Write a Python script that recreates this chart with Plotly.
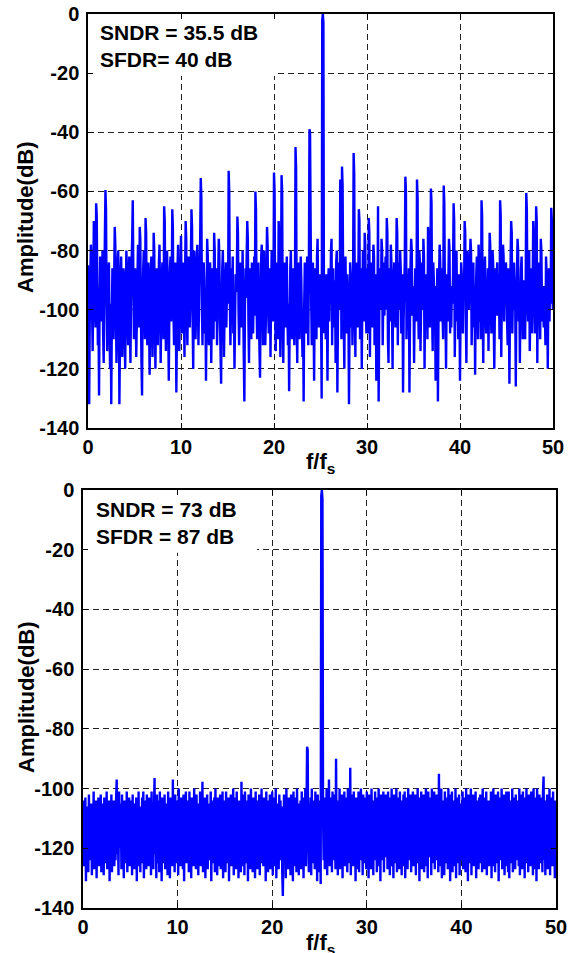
import numpy as np
import plotly.graph_objects as go
from plotly.subplots import make_subplots

# frequency bins (f/fs), 16 per unit
freq = np.arange(801) / 16

# top panel: SNDR 35.5 dB (one row per unit of f/fs)
amp_top = [
    -85, -110, -132, -104, -88, -78, -84, -100, -114, -96, -70, -74, -98, -106, -64, -68,
    -92, -112, -100, -129, -96, -82, -86, -104, -90, -80, -108, -118, -94, -76, -59.5, -66,
    -98, -114, -102, -88, -84, -106, -120, -98, -132, -104, -86, -92, -110, -90, -72, -78,
    -100, -118, -104, -84, -80, -96, -132, -110, -90, -82, -94, -116, -100, -86, -90, -108,
    -120, -96, -80, -86, -104, -112, -92, -82, -100, -118, -98, -84, -76, -63, -88, -110,
    -102, -86, -94, -116, -104, -90, -78, -84, -106, -72, -76, -100, -118, -129, -96, -86,
    -80, -96, -110, -69, -74, -98, -112, -90, -84, -102, -122, -106, -88, -82, -98, -116,
    -100, -74, -80, -104, -120, -96, -86, -92, -112, -100, -84, -78, -96, -118, -104, -90,
    -84, -98, -110, -65, -70, -96, -114, -88, -80, -90, -106, -124, -100, -86, -82, -104,
    -94, -66, -72, -100, -112, -90, -84, -98, -128, -108, -86, -78, -96, -114, -102, -88,
    -75, -92, -108, -96, -84, -100, -116, -90, -70, -76, -102, -112, -94, -82, -88, -106,
    -98, -84, -66, -72, -104, -120, -96, -80, -88, -110, -100, -86, -78, -94, -112, -98,
    -86, -76, -55.5, -62, -100, -112, -94, -84, -90, -108, -98, -124, -102, -76, -82, -106,
    -112, -96, -84, -90, -118, -102, -86, -94, -110, -74, -80, -104, -96, -86, -112, -100,
    -88, -76, -82, -104, -114, -125, -98, -86, -80, -96, -116, -100, -90, -84, -106, -94,
    -84, -98, -53, -60, -96, -112, -100, -86, -92, -82, -108, -96, -120, -104, -88, -94,
    -90, -68.5, -74, -100, -112, -96, -84, -88, -106, -94, -80, -98, -116, -131, -100, -86,
    -96, -82, -70, -76, -104, -118, -92, -86, -100, -110, -84, -90, -108, -96, -82, -102,
    -60, -66, -98, -110, -90, -84, -100, -114, -123, -96, -82, -78, -94, -112, -88, -80,
    -98, -112, -104, -88, -72, -78, -100, -108, -86, -92, -116, -96, -80, -84, -104, -98,
    -53.6, -60, -100, -114, -92, -84, -98, -110, -70, -76, -102, -116, -90, -54.5, -60, -104,
    -118, -96, -84, -90, -106, -94, -82, -100, -112, -98, -127.6, -104, -86, -80, -96, -110,
    -96, -86, -100, -112, -94, -45, -52, -104, -118, -92, -84, -98, -110, -96, -82, -90,
    -104, -116, -100, -131, -98, -84, -90, -108, -96, -82, -94, -112, -86, -39, -40, -70,
    -98, -112, -90, -84, -100, -124, -96, -86, -94, -110, -82, -76, -98, -106, -92, -88,
    -96, -104, -130, -2, 0, -3, -108, -96, -90, -110, -88, -100, -124, -94, -86, -104,
    -88, -98, -80, -76, -112, -92, -86, -106, -100, -90, -118, -84, -80, -128, -104, -94,
    -84, -100, -56, -62, -110, -51.6, -58, -92, -104, -120, -90, -82, -98, -108, -88, -94,
    -100, -132, -104, -84, -88, -106, -96, -112, -94, -47, -54, -98, -116, -90, -84, -100,
    -106, -92, -66, -70, -110, -98, -86, -120, -96, -80, -84, -104, -74, -78, -100, -108,
    -86, -98, -108, -69, -74, -116, -94, -88, -84, -106, -92, -78, -82, -112, -98, -88,
    -124, -94, -98, -65, -131, -104, -86, -92, -100, -76, -80, -112, -96, -84, -102, -90,
    -82, -100, -69, -74, -110, -118, -96, -86, -104, -78, -84, -100, -120, -94, -88, -84,
    -98, -106, -90, -69, -74, -112, -96, -84, -100, -80, -86, -108, -96, -88, -128, -104,
    -92, -84, -55, -60, -110, -98, -88, -100, -86, -128, -104, -84, -76, -80, -102, -98,
    -92, -118, -100, -86, -94, -104, -56, -62, -98, -110, -80, -84, -114, -100, -90, -84,
    -100, -76, -82, -120, -96, -88, -104, -92, -110, -72, -78, -98, -106, -84, -59, -64,
    -102, -114, -84, -90, -106, -96, -124, -92, -100, -86, -131, -104, -88, -78, -84, -104,
    -98, -86, -102, -110, -58, -64, -94, -100, -120, -96, -88, -104, -90, -76, -80, -108,
    -94, -106, -92, -98, -88, -64, -70, -116, -100, -84, -80, -104, -92, -110, -88, -98,
    -124, -100, -84, -88, -96, -108, -90, -94, -70, -74, -102, -118, -92, -80, -86, -100,
    -94, -86, -76, -80, -112, -100, -90, -84, -106, -92, -122, -98, -88, -82, -100, -110,
    -78, -84, -104, -96, -110, -63, -68, -100, -118, -94, -86, -82, -100, -108, -90, -96,
    -86, -114, -96, -74, -78, -98, -108, -92, -80, -84, -104, -120, -100, -86, -102, -92,
    -84, -102, -94, -88, -110, -63, -68, -116, -96, -100, -78, -82, -104, -88, -96, -84,
    -90, -104, -112, -86, -98, -125, -100, -84, -70, -74, -108, -96, -100, -84, -94, -98,
    -126, -96, -88, -76, -80, -104, -92, -118, -98, -86, -82, -96, -110, -90, -94, -100,
    -110, -92, -60.5, -66, -96, -104, -98, -80, -114, -100, -90, -86, -108, -92, -70, -76,
    -96, -108, -86, -65, -70, -118, -94, -84, -100, -92, -110, -76, -80, -98, -104, -92,
    -106, -92, -100, -112, -82, -88, -96, -120, -94, -86, -104, -90, -98, -65.5, -70, -96,
    -100,
]

# bottom panel: SNDR 73 dB
amp_bot = [
    -104, -126, -108, -122, -103, -131, -110, -119, -106, -128, -102, -124, -112, -120, -105, -129,
    -107, -123, -101, -127, -110, -118, -104, -130, -109, -121, -103, -126, -108, -124, -102, -128,
    -105, -120, -111, -129, -103, -125, -107, -122, -101, -127, -109, -119, -104, -131, -106, -123,
    -102, -128, -108, -121, -104, -126, -110, -124, -103, -97, -122, -106, -129, -101, -120, -108,
    -105, -127, -102, -123, -109, -130, -104, -119, -107, -125, -101, -128, -111, -122, -103, -126,
    -108, -121, -104, -129, -102, -124, -110, -127, -105, -120, -103, -131, -107, -123, -101, -126,
    -106, -128, -109, -122, -103, -125, -101, -130, -108, -119, -104, -127, -102, -123, -110, -126,
    -103, -120, -107, -129, -101, -124, -105, -127, -108, -96.5, -122, -104, -130, -102, -125, -109,
    -104, -128, -101, -121, -106, -131, -103, -125, -110, -119, -102, -127, -105, -123, -108, -129,
    -101, -124, -107, -130, -103, -120, -105, -126, -97, -122, -109, -128, -102, -125, -104, -121,
    -106, -129, -100, -123, -108, -126, -103, -119, -110, -127, -102, -131, -105, -122, -101, -125,
    -109, -120, -104, -128, -101, -124, -107, -130, -103, -121, -106, -126, -100, -123, -111, -127,
    -102, -125, -105, -129, -108, -122, -101, -126, -104, -119, -97.7, -128, -106, -123, -103, -130,
    -107, -121, -102, -127, -105, -124, -110, -120, -101, -131, -104, -125, -108, -122, -103, -128,
    -100, -123, -106, -129, -103, -126, -109, -120, -102, -127, -105, -124, -101, -130, -107, -122,
    -104, -128, -101, -121, -110, -125, -103, -131, -106, -119, -102, -126, -108, -123, -100, -129,
    -105, -122, -103, -127, -101, -124, -107, -130, -104, -120, -109, -128, -97.7, -123, -102, -126,
    -106, -129, -101, -121, -104, -125, -108, -131, -102, -123, -106, -127, -100, -120, -105, -128,
    -103, -124, -109, -130, -101, -122, -106, -127, -104, -119, -102, -129, -107, -125, -100, -123,
    -108, -126, -103, -121, -105, -131, -101, -124, -110, -128, -104, -120, -102, -127, -106, -122,
    -101, -129, -107, -123, -103, -126, -100, -130, -105, -121, -108, -127, -102, -124, -104, -119,
    -106, -128, -136, -121, -102, -125, -104, -130, -100, -123, -107, -127, -103, -120, -105, -129,
    -102, -124, -106, -131, -101, -122, -108, -126, -103, -128, -100, -121, -105, -129, -107, -123,
    -104, -127, -101, -120, -106, -130, -103, -124, -100, -126, -108, -86, -87, -118, -128, -105,
    -122, -103, -129, -100, -125, -107, -121, -104, -127, -101, -124, -106, -131, -102, -120, -105,
    -128, -104, -132, -2, 0, -3, -110, -124, -106, -127, -103, -121, -100, -129, -105, -123,
    -97, -126, -103, -122, -108, -128, -101, -124, -105, -120, -102, -127, -90, -123, -106, -129,
    -104, -121, -100, -127, -107, -124, -102, -130, -105, -119, -101, -126, -109, -122, -103, -128,
    -100, -125, -106, -122, -93, -129, -102, -120, -108, -126, -101, -123, -105, -131, -103, -127,
    -107, -122, -101, -128, -104, -124, -100, -121, -106, -129, -102, -125, -109, -120, -103, -127,
    -101, -126, -105, -130, -102, -123, -108, -127, -100, -121, -104, -129, -106, -124, -101, -120,
    -109, -128, -103, -122, -100, -126, -105, -131, -102, -124, -107, -120, -101, -128, -104, -123,
    -102, -121, -106, -127, -101, -124, -103, -129, -108, -122, -100, -126, -105, -130, -102, -119,
    -105, -125, -100, -128, -107, -121, -103, -127, -101, -123, -109, -129, -104, -120, -102, -126,
    -101, -130, -106, -122, -103, -127, -100, -124, -105, -119, -102, -128, -108, -123, -101, -126,
    -104, -121, -102, -129, -106, -125, -100, -122, -103, -131, -107, -120, -101, -127, -105, -124,
    -102, -128, -108, -121, -100, -126, -104, -130, -101, -123, -106, -119, -103, -129, -100, -125,
    -107, -122, -101, -127, -105, -124, -102, -120, -108, -128, -95, -123, -103, -126, -100, -130,
    -104, -121, -106, -129, -101, -125, -103, -122, -109, -127, -100, -124, -105, -131, -102, -120,
    -101, -128, -104, -123, -107, -126, -100, -130, -103, -121, -106, -125, -102, -129, -108, -122,
    -105, -124, -101, -127, -103, -120, -106, -128, -100, -123, -104, -131, -102, -125, -107, -121,
    -100, -129, -105, -122, -102, -126, -108, -124, -101, -130, -104, -119, -106, -127, -103, -123,
    -102, -125, -107, -128, -100, -121, -103, -127, -105, -124, -101, -129, -109, -122, -104, -126,
    -106, -120, -101, -130, -104, -123, -100, -126, -107, -128, -102, -121, -105, -125, -101, -131,
    -103, -124, -108, -122, -100, -127, -105, -120, -102, -129, -106, -123, -101, -126, -104, -128,
    -101, -130, -104, -121, -107, -125, -100, -128, -103, -122, -105, -127, -102, -124, -108, -120,
    -104, -126, -100, -129, -106, -123, -102, -127, -101, -121, -107, -130, -103, -125, -100, -122,
    -105, -128, -102, -123, -108, -126, -101, -120, -104, -129, -100, -124, -106, -127, -103, -131,
    -100, -122, -105, -127, -102, -125, -107, -121, -103, -128, -101, -96, -124, -106, -129, -104,
    -120, -102, -127, -105, -123, -100, -129, -107, -121, -103, -126, -101, -124, -106, -130, -104,
    -118,
]

labels_top = ["SNDR = 35.5 dB", "SFDR= 40 dB"]
labels_bot = ["SNDR = 73 dB", "SFDR = 87 dB"]

y_ticks = list(range(-140, 1, 20))
x_ticks = [0, 10, 20, 30, 40, 50]

W, H = 577, 953
FONT = "Arial, Liberation Sans, sans-serif"


def px_x(p):
    return p / W


def px_y(p):
    return 1 - p / H


fig = make_subplots(rows=2, cols=1)
for i, amp in enumerate([amp_top, amp_bot]):
    fig.add_trace(go.Scatter(x=freq, y=amp, mode="lines",
                             line=dict(color="#0000ff", width=2.4, simplify=False)),
                  row=i + 1, col=1)

axis_common = dict(
    showline=True, linecolor="black", linewidth=1.5, mirror="allticks",
    ticks="inside", ticklen=5, tickcolor="black",
    showgrid=True, gridcolor="#222", gridwidth=1, griddash="6px,4px",
    zeroline=False, automargin=False, ticklabeloverflow="allow",
    tickfont=dict(family=FONT, size=20, color="black", weight="bold"),
)
fig.update_xaxes(axis_common, range=[0, 50], tickvals=x_ticks,
                 ticktext=[str(v) for v in x_ticks])
# plain hyphen minus, as in the original figure
fig.update_yaxes(axis_common, range=[-140, 0], tickvals=y_ticks,
                 ticktext=[str(v) for v in y_ticks], ticklabelstandoff=3)

fig.update_layout(
    xaxis=dict(domain=[px_x(88), px_x(553)]),
    yaxis=dict(domain=[px_y(428), px_y(14)]),
    xaxis2=dict(domain=[px_x(83), px_x(556)]),
    yaxis2=dict(domain=[px_y(908), px_y(490)]),
)

# white boxes behind the labels hide the grid
fig.add_shape(type="rect", xref="x", yref="y", x0=0, x1=20.4, y0=-21, y1=0,
              fillcolor="white", line=dict(width=0), layer="between")
fig.add_shape(type="rect", xref="x2", yref="y2", x0=0, x1=18.4, y0=-21, y1=0,
              fillcolor="white", line=dict(width=0), layer="between")

bold = dict(family=FONT, size=21, color="black", weight="bold")
fig.add_annotation(xref="x", yref="y", x=1.1, y=-1.6, xanchor="left", yanchor="top",
                   text="<br>".join(labels_top), align="left", showarrow=False, font=bold)
fig.add_annotation(xref="x2", yref="y2", x=1.2, y=-1.9, xanchor="left", yanchor="top",
                   text="<br>".join(labels_bot), align="left", showarrow=False, font=bold)

title_font = dict(family=FONT, size=22, color="black", weight="bold")
for yc in [217, 697]:
    fig.add_annotation(xref="paper", yref="paper", x=px_x(26), y=px_y(yc),
                       text="Amplitude(dB)", textangle=-90, showarrow=False,
                       font=title_font, xanchor="center", yanchor="middle")
for yt in [447, 928]:
    fig.add_annotation(xref="paper", yref="paper", x=px_x(320), y=px_y(yt),
                       text="f/f<sub>s</sub>", showarrow=False, font=title_font,
                       xanchor="center", yanchor="top")

fig.update_layout(
    width=W, height=H, showlegend=False,
    margin=dict(l=0, r=0, t=0, b=0),
    paper_bgcolor="white", plot_bgcolor="white",
)

# drop the browser's default 8px body margin so the page matches the figure
fig.write_html("out.html", config={"displayModeBar": False},
               post_script="document.body.style.margin='0px';")
